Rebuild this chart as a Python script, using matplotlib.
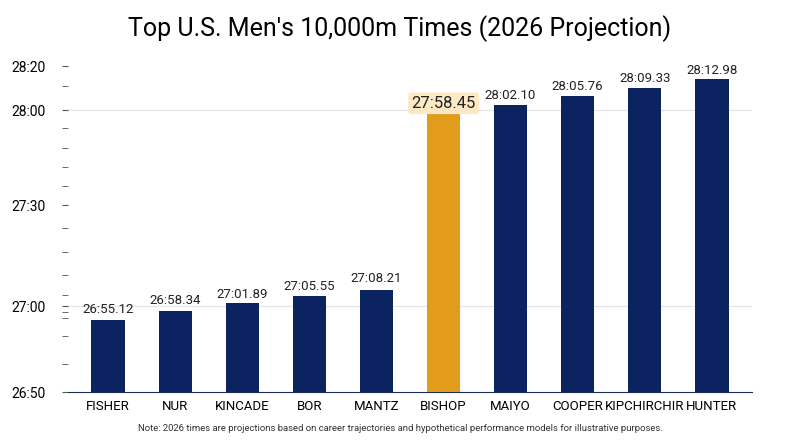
import matplotlib
matplotlib.use("Agg")
import matplotlib.pyplot as plt
import numpy as np

names = ["FISHER","NUR","KINCADE","BOR","MANTZ","BISHOP","MAIYO","COOPER","KIPCHIRCHIR","HUNTER"]
labels = ["26:55.12","26:58.34","27:01.89","27:05.55","27:08.21","27:58.45","28:02.10","28:05.76","28:09.33","28:12.98"]
secs = [1615.12,1618.34,1621.89,1625.55,1628.21,1678.45,1682.10,1685.76,1689.33,1692.98]
tick_vals = [1610,1620,1650,1680,1700]
tick_labels = ["26:50","27:00","27:30","28:00","28:20"]
minor_vals = [1612,1614,1616,1618,1626,1632,1638,1644,1656,1662,1668,1674,1690]

# piecewise scale nodes (value -> pixel row in reference)
nv = np.array([1610,1615.12,1618.34,1620,1621.89,1625.55,1628.21,1650,1678.45,1680,1692.98,1700])
npx = np.array([392,320,311,299,303,296,290,205,114,110,79,66])
npx = np.array([392,320,311,306,303,296,290,205,114,110,79,66])
npos = (392-npx)/326.0
fwd = lambda v: np.interp(v, nv, npos)
inv = lambda p: np.interp(p, npos, nv)

plt.rcParams['font.family'] = ['Roboto','DejaVu Sans']
fig = plt.figure(figsize=(8,4.47), dpi=100)
ax = fig.add_axes([0.085,0.123,0.855,0.729])
ax.set_yscale('function', functions=(fwd, inv))
ax.set_ylim(1610,1700)
x = np.arange(len(names))
colors = ["#e29b1b" if n=="BISHOP" else "#0b2361" for n in names]
heights = [s-1610 for s in secs]
ax.bar(x, heights, bottom=1610, width=0.5, color=colors, zorder=3)
ax.set_xlim(-0.6, 9.6)
for xi, s, l, n in zip(x, secs, labels, names):
    if n == "BISHOP":
        ax.text(xi, s+1.3, l, ha='center', va='bottom', fontsize=12, color='#222',
                bbox=dict(boxstyle='round,pad=0.2', fc='#fde7bd', ec='none', alpha=0.9), zorder=4)
    else:
        ax.text(xi, s+1.3, l, ha='center', va='bottom', fontsize=9.5, color='#222', zorder=4)
ax.set_yticks(tick_vals)
ax.set_yticklabels(tick_labels, fontsize=10)
ax.set_yticks(minor_vals, minor=True)
ax.tick_params(axis='y', which='both', length=4, color='#555', pad=12)
ax.set_xticks(x)
ax.set_xticklabels(names, fontsize=9.5)
ax.tick_params(axis='x', length=0, pad=6)
for v in [1620,1680]:
    ax.axhline(v, color='#e6e6e6', lw=0.9, zorder=1)
for sp in ['top','right','left']:
    ax.spines[sp].set_visible(False)
ax.spines['bottom'].set_color('#1a2a55')
fig.suptitle("Top U.S. Men's 10,000m Times (2026 Projection)", fontsize=18, y=0.965)
fig.text(0.5, 0.035, "Note: 2026 times are projections based on career trajectories and hypothetical performance models for illustrative purposes.",
         ha='center', fontsize=6.8, color='#333')
fig.savefig("out.png", dpi=100)
